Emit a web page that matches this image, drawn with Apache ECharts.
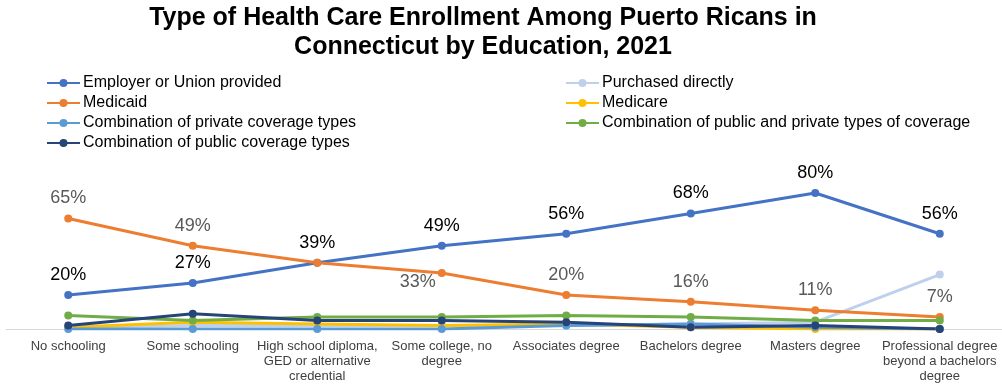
<!DOCTYPE html>
<html>
<head>
<meta charset="utf-8">
<script src="https://cdn.jsdelivr.net/npm/echarts@6/dist/echarts.min.js"></script>
<style>
  html, body { margin: 0; padding: 0; background: #ffffff; }
  #chart { width: 1002px; height: 385px; }
</style>
</head>
<body>
<div id="chart"></div>
<script>
const categories = [
  'No schooling',
  'Some schooling',
  'High school diploma,\nGED or alternative\ncredential',
  'Some college, no\ndegree',
  'Associates degree',
  'Bachelors degree',
  'Masters degree',
  'Professional degree\nbeyond a bachelors\ndegree'
];

const employerUnion = [20, 27, 39, 49, 56, 68, 80, 56];
const purchasedDirectly = [1, 2, 2, 2, 2, 3, 4, 32];
const medicaid = [65, 49, 39, 33, 20, 16, 11, 7];
const medicare = [1, 4, 3, 2, 3, 1, 0, 0];
const privateCombo = [0, 0, 0, 0, 2, 3, 1, 0];
const publicPrivateCombo = [8, 5, 7, 7, 8, 7, 5, 5];
const publicCombo = [2, 9, 5, 5, 4, 1, 2, 0];

const FONT = '"Liberation Sans", Arial, sans-serif';

function lineSeries(name, data, color, labelFor) {
  return {
    type: 'line',
    name,
    data: data.map((v, i) => {
      const item = { value: v };
      if (labelFor) {
        item.label = labelFor(i);
      }
      return item;
    }),
    symbol: 'circle',
    symbolSize: 8,
    lineStyle: { color, width: 3 },
    itemStyle: { color },
    label: { show: false },
    emphasis: { disabled: true },
  };
}

const legendText = { fontFamily: FONT, fontSize: 16, color: '#000000', padding: [0, 0, 0, -2] };

const chart = echarts.init(document.getElementById('chart'));

chart.setOption({
  animation: false,
  textStyle: { fontFamily: FONT },
  title: {
    text: 'Type of Health Care Enrollment Among Puerto Ricans in\nConnecticut by Education, 2021',
    left: 478,
    textAlign: 'center',
    top: -1,
    textStyle: {
      fontFamily: FONT,
      fontSize: 25,
      fontWeight: 'bold',
      color: '#000000',
      lineHeight: 29,
    },
  },
  legend: [
    {
      orient: 'vertical',
      left: 46,
      top: 75,
      padding: 0,
      itemWidth: 33,
      itemHeight: 10,
      itemGap: 4,
      textStyle: legendText,
      data: [
        'Employer or Union provided',
        'Medicaid',
        'Combination of private coverage types',
        'Combination of public coverage types',
      ],
    },
    {
      orient: 'vertical',
      left: 565,
      top: 75,
      padding: 0,
      itemWidth: 33,
      itemHeight: 10,
      itemGap: 4,
      textStyle: legendText,
      data: [
        'Purchased directly',
        'Medicare',
        'Combination of public and private types of coverage',
      ],
    },
  ],
  grid: {
    left: 6,
    width: 1001,
    top: 159,
    bottom: 56,
  },
  xAxis: {
    type: 'category',
    data: categories,
    boundaryGap: true,
    axisLine: { lineStyle: { color: '#d9d9d9', width: 1 } },
    axisTick: { show: false },
    axisLabel: {
      interval: 0,
      fontFamily: FONT,
      fontSize: 13,
      color: '#404040',
      lineHeight: 15,
      margin: 10,
    },
  },
  yAxis: {
    type: 'value',
    min: 0,
    max: 100,
    show: false,
    splitLine: { show: false },
  },
  series: [
    lineSeries('Employer or Union provided', employerUnion, '#4472C4', () => ({
      show: true,
      position: 'top',
      distance: 7,
      fontFamily: FONT,
      fontSize: 18,
      color: '#000000',
      formatter: '{c}%',
    })),
    lineSeries('Purchased directly', purchasedDirectly, '#BFD0EC'),
    lineSeries('Medicaid', medicaid, '#ED7D31', i => {
      if (i === 2) {
        return { show: false };
      }
      const lbl = {
        show: true,
        position: 'top',
        distance: 7,
        fontFamily: FONT,
        fontSize: 18,
        color: '#595959',
        formatter: '{c}%',
      };
      if (i === 3) {
        lbl.position = 'inside';
        lbl.offset = [-24, 9];
      }
      return lbl;
    }),
    lineSeries('Medicare', medicare, '#FFC000'),
    lineSeries('Combination of private coverage types', privateCombo, '#5B9BD5'),
    lineSeries('Combination of public and private types of coverage', publicPrivateCombo, '#70AD47'),
    lineSeries('Combination of public coverage types', publicCombo, '#264478'),
  ],
});
</script>
</body>
</html>
